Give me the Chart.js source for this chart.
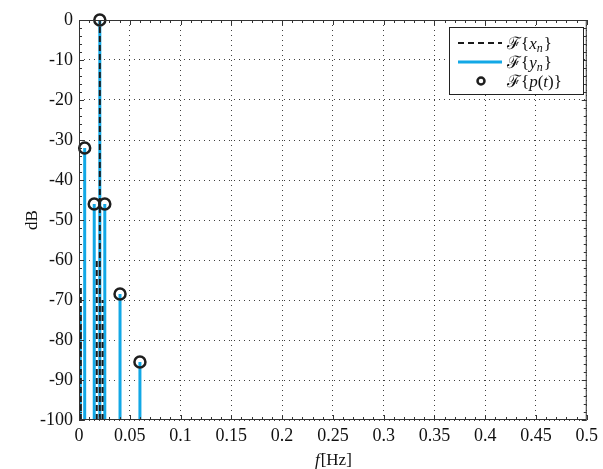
<!DOCTYPE html>
<html>
<head>
<meta charset="utf-8">
<script src="https://cdn.jsdelivr.net/npm/chart.js@4.4.1/dist/chart.umd.min.js"></script>
<style>
  html, body { margin: 0; padding: 0; background: #fff; }
  #wrap { width: 603px; height: 469px; position: relative; }
</style>
</head>
<body>
<div id="wrap"><canvas id="myChart"></canvas></div>
<script>
// spectrum of y_n (blue stems)
var yFreq = [0.0012, 0.0056, 0.015, 0.0205, 0.0254, 0.0404, 0.06];
var yDb   = [-73, -32, -46, 0, -46, -68.5, -85.5];
// spectrum of x_n (black dashed stems)
var xFreq = [0.0018, 0.0175, 0.0205, 0.0232];
var xDb   = [-67, -60, 0, -70];
// F{p(t)} markers
var pFreq = [0.0056, 0.015, 0.0205, 0.0254, 0.0404, 0.06];
var pDb   = [-32, -46, 0, -46, -68.5, -85.5];

var xTicks = [0, 0.05, 0.1, 0.15, 0.2, 0.25, 0.3, 0.35, 0.4, 0.45, 0.5];
var xTickLabels = ["0", "0.05", "0.1", "0.15", "0.2", "0.25", "0.3", "0.35", "0.4", "0.45", "0.5"];
var yTicks = [0, -10, -20, -30, -40, -50, -60, -70, -80, -90, -100];
var yTickLabels = ["0", "-10", "-20", "-30", "-40", "-50", "-60", "-70", "-80", "-90", "-100"];

var floorDb = -100;
var serif = "'Liberation Serif', 'Times New Roman', serif";

function stems(freq, db) {
    var pts = [];
    for (var i = 0; i < freq.length; i++) {
        pts.push({ x: freq[i], y: floorDb });
        pts.push({ x: freq[i], y: db[i] });
        pts.push({ x: freq[i], y: null });
    }
    return pts;
}

function points(freq, db) {
    var pts = [];
    for (var i = 0; i < freq.length; i++) {
        pts.push({ x: freq[i], y: db[i] });
    }
    return pts;
}

// frame, inward ticks, legend and axis titles
var decor = {
    id: "decor",
    afterDraw: function (chart) {
        var ctx = chart.ctx;
        var a = chart.chartArea;
        var xs = chart.scales.x;
        var ys = chart.scales.y;
        ctx.save();
        ctx.strokeStyle = "#333";
        ctx.lineWidth = 1;
        ctx.strokeRect(a.left + 0.5, a.top + 0.5, a.right - a.left - 1, a.bottom - a.top - 1);

        ctx.beginPath();
        for (var k = 0; k <= 50; k++) {
            var px = Math.round(xs.getPixelForValue(k * 0.01)) + 0.5;
            var len = k % 5 === 0 ? 5 : 3;
            ctx.moveTo(px, a.bottom); ctx.lineTo(px, a.bottom - len);
            ctx.moveTo(px, a.top); ctx.lineTo(px, a.top + len);
        }
        for (var j = 0; j <= 50; j++) {
            var py = Math.round(ys.getPixelForValue(-j * 2)) + 0.5;
            var l2 = j % 5 === 0 ? 5 : 3;
            ctx.moveTo(a.left, py); ctx.lineTo(a.left + l2, py);
            ctx.moveTo(a.right, py); ctx.lineTo(a.right - l2, py);
        }
        ctx.stroke();

        // legend box
        var bx = 449, by = 27, bw = 134, bh = 67;
        ctx.fillStyle = "#fff";
        ctx.fillRect(bx, by, bw, bh);
        ctx.strokeStyle = "#222";
        ctx.strokeRect(bx + 0.5, by + 0.5, bw, bh);

        var rows = [
            { y: 43, kind: "dash", sym: "x" },
            { y: 62, kind: "line", sym: "y" },
            { y: 81, kind: "dot", sym: "p" }
        ];
        rows.forEach(function (r) {
            ctx.save();
            if (r.kind === "dash") {
                ctx.strokeStyle = "#1a1a1a";
                ctx.lineWidth = 2;
                ctx.setLineDash([6, 4]);
                ctx.beginPath(); ctx.moveTo(458, r.y); ctx.lineTo(502, r.y); ctx.stroke();
            } else if (r.kind === "line") {
                ctx.strokeStyle = "#12a8e6";
                ctx.lineWidth = 3;
                ctx.beginPath(); ctx.moveTo(458, r.y); ctx.lineTo(502, r.y); ctx.stroke();
            } else {
                ctx.strokeStyle = "#1e1e1e";
                ctx.lineWidth = 2.5;
                ctx.beginPath(); ctx.arc(481, r.y, 3.5, 0, Math.PI * 2); ctx.stroke();
            }
            ctx.restore();

            ctx.fillStyle = "#111";
            ctx.textBaseline = "alphabetic";
            ctx.textAlign = "left";
            var tx = 507, ty = r.y + 6;
            ctx.font = "17px " + serif;
            ctx.fillText("ℱ{", tx, ty);
            tx += ctx.measureText("ℱ{").width;
            if (r.sym === "p") {
                ctx.font = "italic 17px " + serif;
                ctx.fillText("p", tx, ty);
                tx += ctx.measureText("p").width;
                ctx.font = "17px " + serif;
                ctx.fillText("(", tx, ty);
                tx += ctx.measureText("(").width;
                ctx.font = "italic 17px " + serif;
                ctx.fillText("t", tx, ty);
                tx += ctx.measureText("t").width;
                ctx.font = "17px " + serif;
                ctx.fillText(")}", tx, ty);
            } else {
                ctx.font = "italic 17px " + serif;
                ctx.fillText(r.sym, tx, ty);
                tx += ctx.measureText(r.sym).width;
                ctx.font = "italic 12px " + serif;
                ctx.fillText("n", tx, ty + 3);
                tx += ctx.measureText("n").width + 1;
                ctx.font = "17px " + serif;
                ctx.fillText("}", tx, ty);
            }
        });

        // axis titles
        ctx.fillStyle = "#111";
        ctx.textBaseline = "middle";
        ctx.font = "italic 17px " + serif;
        var w1 = ctx.measureText("f").width;
        ctx.font = "17px " + serif;
        var w2 = ctx.measureText("[Hz]").width;
        var cx = (a.left + a.right) / 2 - (w1 + w2) / 2;
        ctx.textAlign = "left";
        ctx.font = "italic 17px " + serif;
        ctx.fillText("f", cx, 461);
        ctx.font = "17px " + serif;
        ctx.fillText("[Hz]", cx + w1 + 1, 461);

        ctx.translate(33, (a.top + a.bottom) / 2);
        ctx.rotate(-Math.PI / 2);
        ctx.textAlign = "center";
        ctx.fillText("dB", 0, 0);
        ctx.restore();
    }
};

var ctx = document.getElementById("myChart").getContext("2d");
var lienzo = new Chart(ctx, {
    type: "line",
    data: {
        datasets: [
            {
                label: "F{p(t)}",
                data: points(pFreq, pDb),
                showLine: false,
                pointStyle: "circle",
                pointRadius: 5.5,
                pointBorderWidth: 2.5,
                pointBorderColor: "#1e1e1e",
                pointBackgroundColor: "rgba(0,0,0,0)",
                clip: false,
                order: 0,
            },
            {
                label: "F{x_n}",
                data: stems(xFreq, xDb),
                borderColor: "#1a1a1a",
                borderWidth: 2,
                borderDash: [6, 3],
                pointRadius: 0,
                spanGaps: false,
                order: 1,
            },
            {
                label: "F{y_n}",
                data: stems(yFreq, yDb),
                borderColor: "#12a8e6",
                borderWidth: 3,
                pointRadius: 0,
                spanGaps: false,
                order: 2,
            },
        ],
    },
    options: {
        responsive: true,
        maintainAspectRatio: false,
        animation: false,
        devicePixelRatio: 1,
        layout: { padding: { top: 20, right: 13, left: 0, bottom: 0 } },
        plugins: {
            legend: { display: false },
            tooltip: { enabled: false },
        },
        scales: {
            x: {
                type: "linear",
                min: 0,
                max: 0.5,
                afterBuildTicks: function (scale) {
                    scale.ticks = xTicks.map(function (v) { return { value: v }; });
                },
                afterFit: function (scale) { scale.height = 49; },
                ticks: {
                    padding: 5,
                    color: "#111",
                    font: { family: serif, size: 18 },
                    maxRotation: 0,
                    autoSkip: false,
                    callback: function (value, index) { return xTickLabels[index]; },
                },
                grid: { color: "rgba(0,0,0,0.75)", drawTicks: false, lineWidth: 1 },
                border: { display: false, dash: [1, 4] },
            },
            y: {
                type: "linear",
                min: -100,
                max: 0,
                afterBuildTicks: function (scale) {
                    scale.ticks = yTicks.map(function (v) { return { value: v }; });
                },
                afterFit: function (scale) { scale.width = 79; },
                ticks: {
                    padding: 6,
                    color: "#111",
                    font: { family: serif, size: 18 },
                    autoSkip: false,
                    callback: function (value, index) { return yTickLabels[index]; },
                },
                grid: { color: "rgba(0,0,0,0.75)", drawTicks: false, lineWidth: 1 },
                border: { display: false, dash: [1, 4] },
            },
        },
    },
    plugins: [decor],
});
</script>
</body>
</html>
